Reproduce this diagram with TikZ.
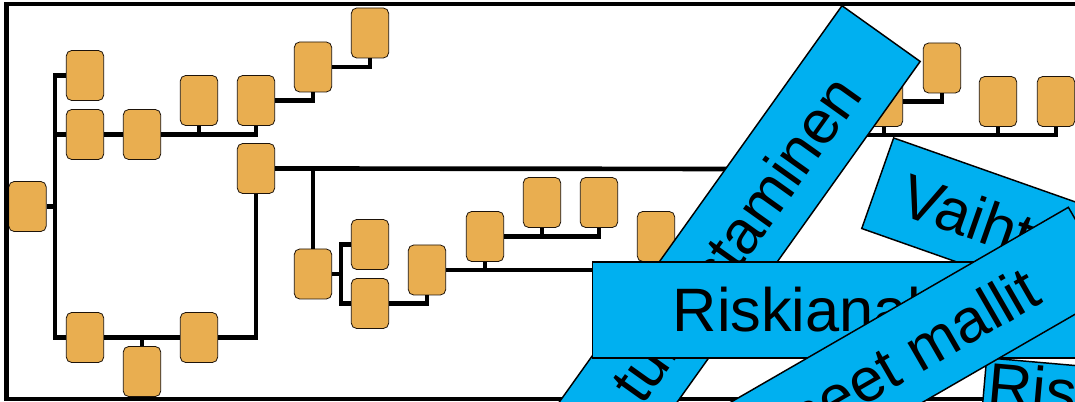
\documentclass[tikz,border=0pt]{standalone}
\usepackage{fontspec}
\setmainfont{Liberation Sans}
\newfontfamily\bannerfont{Liberation Sans}
\usepackage{tikz}

\definecolor{boxorange}{RGB}{233,174,80}
\definecolor{bannerblue}{RGB}{0,176,240}

\tikzset{
    blk/.style={draw=black!85!brown, fill=boxorange, rounded corners=4pt, line width=0.6pt,
        minimum width=28pt, minimum height=37.5pt, inner sep=0pt},
    wire/.style={line width=3.5pt},
    banner/.style={draw=black, line width=1.1pt, fill=bannerblue, minimum height=72pt,
        font=\bannerfont\fontsize{46}{55}\selectfont, inner ysep=0pt,
        text height=33pt, text depth=0pt}
}

\begin{document}
\begin{tikzpicture}[x=0.75pt,y=0.75pt,yscale=-1,xscale=1]

            \useasboundingbox (0,0) rectangle (1075,402);
            \clip (0,0) rectangle (1075,402);

            % Boxes, left tree
            \node[blk] (A) at (27.5,206.5) {};
            \node[blk] (B1) at (85,75.5) {};
            \node[blk] (B2) at (85,134.5) {};
            \node[blk] (C) at (142,134.5) {};
            \node[blk] (D1) at (199,100.5) {};
            \node[blk] (D2) at (256,100.5) {};
            \node[blk] (E) at (313,67) {};
            \node[blk] (F) at (370,33) {};
            \node[blk] (J1) at (85,337.5) {};
            \node[blk] (J2) at (142,371.5) {};
            \node[blk] (J3) at (199,337.5) {};
            \node[blk] (G) at (256,168.5) {};
            \node[blk] (H) at (313,274) {};
            \node[blk] (I1) at (370,244.5) {};
            \node[blk] (I2) at (370,303.5) {};
            \node[blk] (K) at (427,270) {};
            \node[blk] (L) at (485,236.5) {};
            \node[blk] (M1) at (542,202.5) {};
            \node[blk] (M2) at (599,202.5) {};
            \node[blk] (N) at (656,236.5) {};
            % Boxes, right tree
            \node[blk] (P) at (884,101.5) {};
            \node[blk] (Q) at (942,68) {};
            \node[blk] (R1) at (998,101.5) {};
            \node[blk] (R2) at (1056,101.5) {};
            \coordinate (gEnd) at (760,169);
            \coordinate (pStart) at (850,135);

            % Connectors
            \draw[wire] (A.east) -- ++(9,0);
            \draw[wire] (B1.west) -- ++(-11,0) |- (J1.west);
            \draw[wire] (B2.west) -- ++(-11,0);
            \draw[wire] (B2.east) -- (C.west);
            \draw[wire] (C.east) -| (D2.south);
            \draw[wire] (D1.south) -- (D1.south |- C.east);
            \draw[wire] (D2.east) -| (E.south);
            \draw[wire] (E.east) -| (F.south);
            \draw[wire] (J1.east) -- (J3.west);
            \draw[wire] (J2.north) -- (J2.north |- J1.east);
            \draw[wire] (J3.east) -| (G.south);
            \draw[wire] (G.east) -- (gEnd);
            \draw[wire] (H.north) -- (H.north |- G.east);
            \draw[wire] (H.east) -- ++(9,0);
            \draw[wire] (I1.west) -- ++(-10,0) |- (I2.west);
            \draw[wire] (I2.east) -| (K.south);
            \draw[wire] (K.east) -| (N.south);
            \draw[wire] (L.south) -- (L.south |- K.east);
            \draw[wire] (L.east) -| (M2.south);
            \draw[wire] (M1.south) -- (M1.south |- L.east);
            \draw[wire] (P.east) -| (Q.south);
            \draw[wire] (pStart) -| (R2.south);
            \draw[wire] (P.south) -- (P.south |- pStart);
            \draw[wire] (R1.south) -- (R1.south |- pStart);

            % Frame
            \draw[line width=3.5pt] (1200,4) -- (6.5,4) -- (6.5,399) -- (1200,399);

            % Banners
            \node[banner, rotate=54.5, anchor=east, inner xsep=45pt] (tunnist) at (881.5,33) {Riskien tunnistaminen};
            \node[banner, rotate=-19.4, anchor=west, inner xsep=21pt] (vaiht) at (877,183) {Vaihtoehdot};
            \node[banner, anchor=west, inner xsep=60pt] (analyysi) at (592,310) {Riskianalyysi};
            \node[banner, rotate=-5, anchor=north west, inner xsep=3pt, inner ysep=3pt, text depth=33pt] (hallinta) at (986,357) {Riskienhallinta};
            \node[banner, rotate=30, anchor=east, inner xsep=51pt] (mallit) at (1093,248.5) {Kehittyneet mallit};

        \end{tikzpicture}
\end{document}
